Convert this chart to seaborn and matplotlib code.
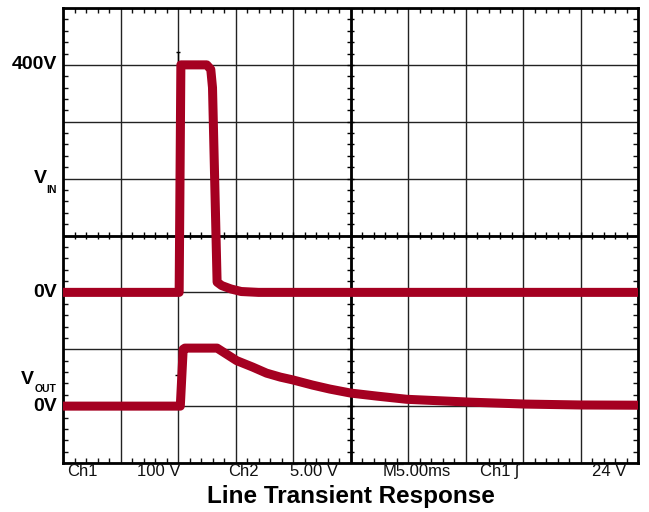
import matplotlib
matplotlib.use("Agg")
import matplotlib.pyplot as plt
import numpy as np
import pandas as pd
import seaborn as sns

# scope settings
vin_per_div = 100.0   # Ch1 100 V
vout_per_div = 5.0    # Ch2 5.00 V
vin_zero_div = 3.0
vout_zero_div = 1.0

# traces, time in ms (M5.00ms, 10 divisions)
t_vin = [0, 10.1, 10.25, 12.5, 12.85, 13.0, 13.4, 13.8, 14.6, 15.5, 17.0, 50]
v_vin = [0, 0, 400, 400, 392, 360, 18, 12, 6, 1.5, 0, 0]

t_vout = [0, 10.2, 10.45, 10.6, 13.4, 15.1, 16.5, 17.7, 18.9, 20.0, 21.7, 23.2,
          25.0, 27.3, 29.9, 35.4, 40.2, 45.0, 50]
v_vout = [0, 0, 5.0, 5.1, 5.1, 4.0, 3.43, 2.9, 2.55, 2.3, 1.85, 1.5,
          1.15, 0.88, 0.6, 0.35, 0.18, 0.1, 0.08]

scope_text = ["Ch1", "100 V", "Ch2", "5.00 V", "M5.00ms", "Ch1 \u0283", "24 V"]
scope_text_x = [67, 137, 228, 290, 383, 480, 592]

left_labels = [("400V", 7.0), ("0V", 3.0), ("0V", 1.0)]

sns.set_style("white")
plt.rcParams["font.family"] = ["Liberation Sans", "DejaVu Sans"]
plt.rcParams["text.color"] = "black"

fig = plt.figure(figsize=(6.49, 5.12), dpi=100)
ax = fig.add_axes([63 / 649, 49 / 512, 575 / 649, 455 / 512])

df = pd.concat([
    pd.DataFrame({"t": t_vin, "div": np.array(v_vin) / vin_per_div + vin_zero_div, "ch": "VIN"}),
    pd.DataFrame({"t": t_vout, "div": np.array(v_vout) / vout_per_div + vout_zero_div, "ch": "VOUT"}),
])

red = "#a50021"
sns.lineplot(data=df, x="t", y="div", units="ch", estimator=None, sort=False,
             color=red, lw=6.5, solid_capstyle="round", solid_joinstyle="round",
             ax=ax, zorder=5, legend=False)

ax.set_xlim(0, 50)
ax.set_ylim(0, 8)
ax.set_xticks(np.arange(0, 51, 5))
ax.set_yticks(np.arange(0, 9, 1))
ax.set_xticks(np.arange(0, 51, 1), minor=True)
ax.set_yticks(np.arange(0, 8.01, 0.2), minor=True)
ax.tick_params(which="both", direction="in", top=True, right=True, bottom=True, left=True,
               labelbottom=False, labelleft=False)
ax.tick_params(which="major", length=0)
ax.tick_params(which="minor", length=3.5, width=1, color="#111")
ax.grid(which="major", color="#222", lw=1)
ax.set_xlabel("")
ax.set_ylabel("")
for sp in ax.spines.values():
    sp.set_color("black")
    sp.set_linewidth(2)

# centre cross with graduations
ax.axvline(25, color="black", lw=2, zorder=3)
ax.axhline(4, color="black", lw=2, zorder=3)
ax.vlines(np.arange(0, 51, 1), 4 - 0.055, 4 + 0.055, color="black", lw=1, zorder=3)
ax.hlines(np.arange(0, 8.01, 0.2), 25 - 0.27, 25 + 0.27, color="black", lw=1, zorder=3)

# trigger markers
ax.vlines(10, 7, 7.22, color="black", lw=1, zorder=3)
ax.hlines(7.22, 9.8, 10.2, color="black", lw=1, zorder=3)
ax.hlines(1.55, 9.75, 10, color="black", lw=1, zorder=3)

# channel labels on the left
lab_tr = ax.get_yaxis_transform()
for txt, yv in left_labels:
    ax.text(-0.01, yv, txt, transform=lab_tr, ha="right", va="center",
            fontsize=14, fontweight="bold")
for sub, yv, ys, vx in [("IN", 5.0, 4.8, -0.028), ("OUT", 1.46, 1.3, -0.05)]:
    ax.text(vx, yv, "V", transform=lab_tr, ha="right", va="center",
            fontsize=14, fontweight="bold")
    ax.text(-0.011, ys, sub, transform=lab_tr, ha="right", va="center",
            fontsize=7.5, fontweight="bold")

# scope readout
for txt, px in zip(scope_text, scope_text_x):
    fig.text(px / 649, 1 - 464 / 512, txt, ha="left", va="top",
             fontsize=12, color="#111")

fig.text(351 / 649, 1 - 496 / 512, "Line Transient Response", ha="center", va="center",
         fontsize=17.5, fontweight="bold")

fig.savefig("out.png", dpi=100)
